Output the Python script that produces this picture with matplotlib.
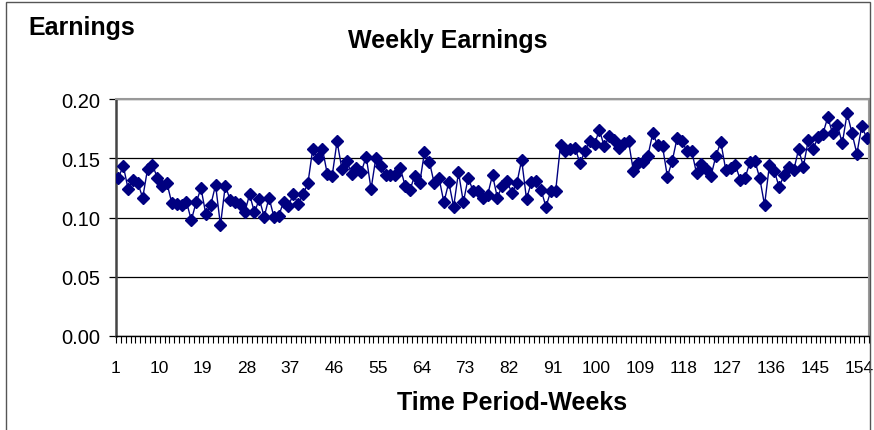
import numpy as np
import matplotlib
matplotlib.use('Agg')
import matplotlib.pyplot as plt
from matplotlib.patches import Rectangle
from matplotlib.transforms import ScaledTranslation

plt.rcParams['font.family'] = ['Liberation Sans', 'DejaVu Sans']

# weekly earnings, weeks 1..155
earnings = [
    0.1337, 0.1435, 0.1240, 0.1316, 0.1288, 0.1167, 0.1410, 0.1444, 0.1337, 0.1270,
    0.1288, 0.1119, 0.1110, 0.1105, 0.1133, 0.0978, 0.1128, 0.1246, 0.1026, 0.1105,
    0.1274, 0.0935, 0.1270, 0.1147, 0.1128, 0.1110, 0.1043, 0.1195, 0.1043, 0.1156,
    0.1006, 0.1167, 0.1006, 0.1014, 0.1134, 0.1100, 0.1195, 0.1116, 0.1195, 0.1288,
    0.1579, 0.1500, 0.1579, 0.1365, 0.1353, 0.1642, 0.1410, 0.1478, 0.1365, 0.1421,
    0.1387, 0.1514, 0.1240, 0.1506, 0.1435, 0.1359, 0.1359, 0.1359, 0.1421, 0.1270,
    0.1232, 0.1354, 0.1288, 0.1551, 0.1472, 0.1288, 0.1331, 0.1128, 0.1297, 0.1091,
    0.1382, 0.1128, 0.1337, 0.1223, 0.1223, 0.1167, 0.1190, 0.1359, 0.1167, 0.1270,
    0.1308, 0.1204, 0.1288, 0.1486, 0.1156, 0.1297, 0.1308, 0.1232, 0.1091, 0.1223,
    0.1223, 0.1613, 0.1562, 0.1579, 0.1590, 0.1458, 0.1557, 0.1647, 0.1619, 0.1740,
    0.1600, 0.1684, 0.1655, 0.1585, 0.1627, 0.1642, 0.1393, 0.1458, 0.1466, 0.1523,
    0.1712, 0.1608, 0.1600, 0.1345, 0.1478, 0.1670, 0.1642, 0.1562, 0.1562, 0.1373,
    0.1450, 0.1407, 0.1354, 0.1523, 0.1636, 0.1405, 0.1421, 0.1444, 0.1316, 0.1337,
    0.1466, 0.1478, 0.1334, 0.1105, 0.1441, 0.1393, 0.1258, 0.1356, 0.1425, 0.1397,
    0.1575, 0.1430, 0.1655, 0.1575, 0.1680, 0.1704, 0.1845, 0.1712, 0.1780, 0.1625,
    0.1880, 0.1712, 0.1538, 0.1769, 0.1675,
]
weeks = list(range(1, len(earnings) + 1))
week_labels = list(range(1, len(earnings) + 1, 9))
y_ticks = [0.00, 0.05, 0.10, 0.15, 0.20]

W, H = 874, 431
fig = plt.figure(figsize=(W / 100, H / 100), dpi=100)

# chart area border
fig.patches.append(Rectangle((6 / W, -0.05), (870 - 6) / W, 1.05 - 3 / H,
                             transform=fig.transFigure, fill=False,
                             edgecolor='#555555', linewidth=1.0))

ax = fig.add_axes([116 / W, (H - 337) / H, (869 - 116) / W, (337 - 100) / H])
ax.plot(weeks, earnings, color='#000080', linewidth=1.0,
        marker='D', markersize=5.8, markerfacecolor='#000080',
        markeredgecolor='#000080', zorder=3)

ax.set_xlim(0.5, len(earnings) + 0.5)
ax.set_ylim(0, 0.20)
ax.set_yticks(y_ticks)
ax.set_yticklabels(['%.2f' % v for v in y_ticks])
ax.grid(axis='y', color='black', linewidth=0.9)
ax.set_axisbelow(True)

ax.set_xticks(week_labels)
ax.set_xticklabels([str(w) for w in week_labels])
ax.set_xticks(np.arange(0.5, len(earnings) + 1, 1.0), minor=True)
ax.tick_params(axis='x', which='major', length=0, pad=17, labelsize=12.5)
ax.tick_params(axis='x', which='minor', length=5, width=0.8, direction='out')
ax.tick_params(axis='y', which='major', length=5, width=0.9, labelsize=14.5, pad=6)

# nudge the week labels a little left so the last one stays inside the figure
shift = ScaledTranslation(-3 / 100, 0, fig.dpi_scale_trans)
for lbl in ax.get_xticklabels():
    lbl.set_transform(lbl.get_transform() + shift)

ax.spines['left'].set_color('#444444')
ax.spines['left'].set_linewidth(1.8)
ax.spines['bottom'].set_color('black')
ax.spines['bottom'].set_linewidth(1.0)
ax.spines['top'].set_color('#999999')
ax.spines['top'].set_linewidth(1.5)
ax.spines['right'].set_color('#999999')
ax.spines['right'].set_linewidth(1.5)

fig.text(28 / W, 1 - 28 / H, 'Earnings', fontsize=18, fontweight='bold',
         ha='left', va='center')
fig.text(448 / W, 1 - 41 / H, 'Weekly Earnings', fontsize=18, fontweight='bold',
         ha='center', va='center')
fig.text(512 / W, 1 - 403 / H, 'Time Period-Weeks', fontsize=18, fontweight='bold',
         ha='center', va='center')

fig.savefig('out.png', dpi=100)
